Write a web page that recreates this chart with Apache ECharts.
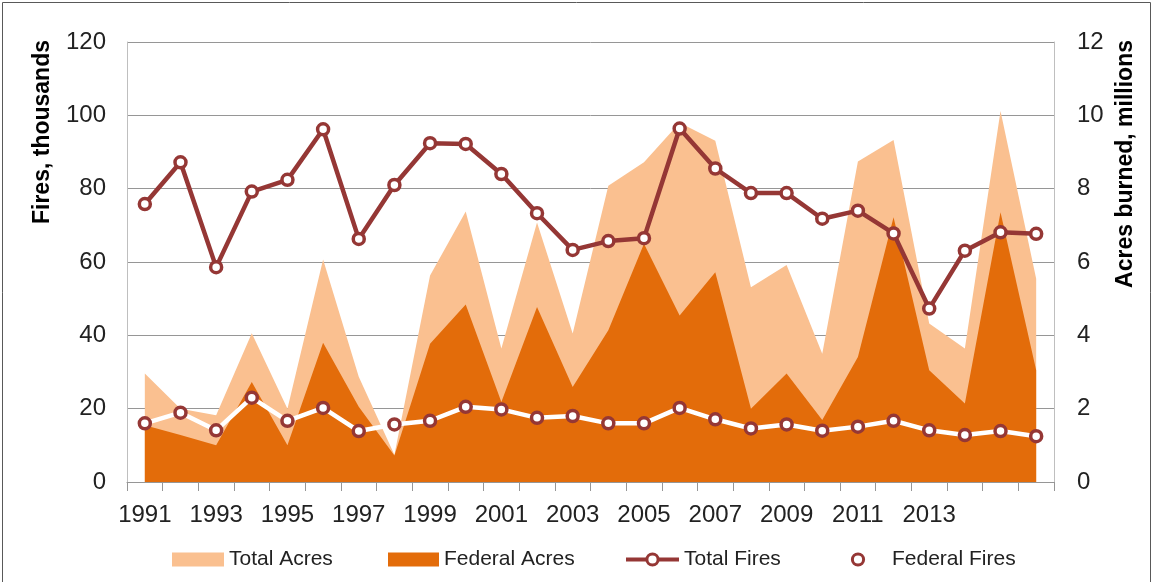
<!DOCTYPE html>
<html>
<head>
<meta charset="utf-8">
<script src="https://cdn.jsdelivr.net/npm/echarts@6/dist/echarts.min.js"></script>
<style>
html,body{margin:0;padding:0;background:#fff;}
#c{width:1154px;height:582px;}
</style>
</head>
<body>
<div id="c"></div>
<script>
var years = ['1991','1992','1993','1994','1995','1996','1997','1998','1999','2000','2001','2002','2003','2004','2005','2006','2007','2008','2009','2010','2011','2012','2013','2014','2015','2016'];
var shownYearLabels = ['1991','1993','1995','1997','1999','2001','2003','2005','2007','2009','2011','2013'];
// Fires, thousands (left axis)
var totalFires = [75.8, 87.2, 58.6, 79.2, 82.4, 96.2, 66.3, 81.0, 92.4, 92.2, 84.0, 73.3, 63.3, 65.7, 66.5, 96.4, 85.5, 78.8, 78.8, 71.8, 74.0, 67.8, 47.3, 63.1, 68.1, 67.7];
var federalFires = [16.0, 18.9, 14.1, 23.0, 16.7, 20.2, 13.9, 15.7, 16.7, 20.5, 19.8, 17.5, 18.0, 16.0, 16.0, 20.2, 17.1, 14.6, 15.7, 14.0, 15.1, 16.7, 14.1, 12.8, 13.9, 12.5];
// Acres burned, millions (right axis)
var totalAcres = [2.96, 2.0, 1.82, 4.06, 2.0, 6.07, 2.87, 0.74, 5.63, 7.38, 3.64, 7.08, 4.05, 8.08, 8.72, 9.80, 9.31, 5.31, 5.92, 3.50, 8.74, 9.33, 4.32, 3.64, 10.12, 5.54];
var federalAcres = [1.55, 1.28, 1.0, 2.73, 1.0, 3.80, 2.05, 0.72, 3.77, 4.84, 2.18, 4.77, 2.59, 4.14, 6.50, 4.54, 5.72, 2.0, 2.96, 1.69, 3.41, 7.22, 3.05, 2.14, 7.36, 3.05];

var chart = echarts.init(document.getElementById('c'), null, {renderer:'canvas'});
var FONT = 'Liberation Sans';
var gridColor = '#969696';
var red = '#953735';
var lightC = '#FAC090';
var darkC = '#E36C0A';

function legendFor(item, left, w, extra){
  var l = {
    data:[item], left:left, top:549, orient:'horizontal', padding:0,
    itemWidth:w, itemHeight:14, itemGap:0,
    textStyle:{fontFamily:FONT, fontSize:21, color:'#222'}
  };
  if (extra) { for (var k in extra) l[k] = extra[k]; }
  return l;
}

chart.setOption({
  animation:false,
  backgroundColor:'#fff',
  grid:{left:127, right:100, top:42, bottom:100, containLabel:false},
  legend:[
    legendFor({name:'Total Acres', icon:'rect'}, 172, 52),
    legendFor({name:'Federal Acres', icon:'rect'}, 388, 51),
    legendFor({name:'Total Fires'}, 624, 53, {lineStyle:{width:4}, itemStyle:{borderWidth:3}}),
    legendFor({name:'Federal Fires'}, 828, 58, {itemStyle:{borderWidth:3}})
  ],
  xAxis:{
    type:'category', data:years, boundaryGap:true,
    axisLine:{lineStyle:{color:gridColor, width:1}},
    axisTick:{show:true, interval:0, length:9, lineStyle:{color:gridColor}},
    axisLabel:{
      interval:0, margin:21, color:'#222', fontFamily:FONT, fontSize:24,
      formatter:function(v){ return shownYearLabels.indexOf(v) >= 0 ? v : ''; }
    },
    splitLine:{show:false}
  },
  yAxis:[
    {
      type:'value', min:0, max:120, interval:20, position:'left',
      axisLine:{show:true, lineStyle:{color:'#BFBFBF'}},
      axisTick:{show:false},
      axisLabel:{margin:21, color:'#222', fontFamily:FONT, fontSize:24},
      splitLine:{show:true, lineStyle:{color:gridColor, width:1}}
    },
    {
      type:'value', min:0, max:12, interval:2, position:'right',
      axisLine:{show:true, lineStyle:{color:'#BFBFBF'}},
      axisTick:{show:false},
      axisLabel:{margin:23, color:'#222', fontFamily:FONT, fontSize:24},
      splitLine:{show:false}
    }
  ],
  graphic:[
    {type:'text', x:43, y:40, rotation:Math.PI/2,
     style:{text:'Fires, thousands', fontFamily:FONT, fontSize:23, fontWeight:'bold', fill:'#000', textAlign:'right', textVerticalAlign:'middle'}},
    {type:'text', x:1126, y:40, rotation:Math.PI/2,
     style:{text:'Acres burned, millions', fontFamily:FONT, fontSize:23, fontWeight:'bold', fill:'#000', textAlign:'right', textVerticalAlign:'middle'}},
    {type:'rect', shape:{x:2.5, y:2.5, width:1148, height:590}, style:{fill:'none', stroke:'#595959', lineWidth:1}, silent:true}
  ],
  series:[
    {
      name:'Total Acres', type:'line', yAxisIndex:1, data:totalAcres,
      symbol:'none', lineStyle:{width:0, color:lightC}, itemStyle:{color:lightC},
      areaStyle:{color:lightC, opacity:1}, z:1
    },
    {
      name:'Federal Acres', type:'line', yAxisIndex:1, data:federalAcres,
      symbol:'none', lineStyle:{width:0, color:darkC}, itemStyle:{color:darkC},
      areaStyle:{color:darkC, opacity:1}, z:2
    },
    {
      name:'Total Fires', type:'line', yAxisIndex:0, data:totalFires,
      symbol:'circle', symbolSize:11,
      lineStyle:{width:4.5, color:red},
      itemStyle:{color:'#fff', borderColor:red, borderWidth:3.5},
      z:4
    },
    {
      name:'Federal Fires', type:'line', yAxisIndex:0, data:federalFires,
      symbol:'circle', symbolSize:11,
      lineStyle:{width:4.5, color:'#fff'},
      itemStyle:{color:'#fff', borderColor:red, borderWidth:3.5},
      z:3
    }
  ]
});
</script>
</body>
</html>
